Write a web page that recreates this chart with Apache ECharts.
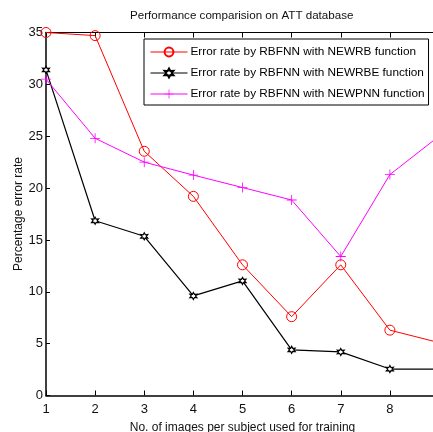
<!DOCTYPE html>
<html>
<head>
<meta charset="utf-8">
<script src="https://cdn.jsdelivr.net/npm/echarts@6/dist/echarts.min.js"></script>
<style>html,body{margin:0;padding:0;background:#fff;}#c{width:433px;height:432px;}</style>
</head>
<body>
<div id="c"></div>
<script>
const xValues = [1, 2, 3, 4, 5, 6, 7, 8, 9];
const newrb = [35, 34.7, 23.55, 19.2, 12.6, 7.6, 12.6, 6.3, 5.1];
const newrbe = [31.4, 16.85, 15.35, 9.6, 11.05, 4.4, 4.2, 2.55, 2.55];
const newpnn = [30.5, 24.8, 22.5, 21.25, 20.05, 18.85, 13.4, 21.3, 25.0];
const seriesNames = [
  'Error rate by RBFNN with NEWRB function',
  'Error rate by RBFNN with NEWRBE function',
  'Error rate by RBFNN with NEWPNN function'
];
const titleText = 'Performance comparision on ATT database';
const xName = 'No. of images per subject used for training';
const yName = 'Percentage error rate';

const FONT = 'Liberation Sans, Arial, Helvetica, sans-serif';
const pair = arr => arr.map((v, i) => [xValues[i], v]);
const starPath = 'path://M5,0L6.3,2.75L9.33,2.5L7.6,5L9.33,7.5L6.3,7.25L5,10L3.7,7.25L0.67,7.5L2.4,5L0.67,2.5L3.7,2.75Z';
const plusPath = 'path://M0,4.6H10V5.4H0Z M4.6,0H5.4V10H4.6Z';

const chart = echarts.init(document.getElementById('c'), null, {renderer: 'canvas'});
chart.setOption({
  animation: false,
  backgroundColor: '#fff',
  title: {
    text: titleText,
    left: 130, top: 10, padding: 0,
    textStyle: {fontFamily: FONT, fontSize: 11.6, fontWeight: 'normal', color: '#111'}
  },
  legend: {
    orient: 'vertical',
    left: 144, top: 39,
    padding: [7, 4, 5, 6],
    itemGap: 9,
    itemWidth: 37, itemHeight: 11,
    borderColor: '#000', borderWidth: 1,
    backgroundColor: '#fff',
    lineStyle: {width: 1},
    textStyle: {fontFamily: FONT, fontSize: 11.8, color: '#000', padding: [0, 0, 0, -2]},
    data: seriesNames
  },
  grid: {left: 46, top: 32.5, width: 393, height: 363, outerBoundsMode: 'none', containLabel: false},
  xAxis: [{
    type: 'value', min: 1, max: 9, interval: 1,
    name: xName, nameLocation: 'middle', nameGap: 26, nameMoveOverlap: false,
    nameTextStyle: {fontFamily: FONT, fontSize: 12, color: '#111'},
    axisLine: {lineStyle: {color: '#000', width: 1.5}},
    axisTick: {inside: true, length: 5, lineStyle: {color: '#000'}},
    axisLabel: {fontFamily: FONT, fontSize: 13, color: '#111', margin: 7,
      formatter: v => (v >= 9 ? '' : String(v))},
    splitLine: {show: false}
  }, {
    type: 'value', min: 1, max: 9, interval: 1, position: 'top',
    axisLine: {lineStyle: {color: '#000', width: 1}},
    axisTick: {inside: true, length: 5, lineStyle: {color: '#000'}},
    axisLabel: {show: false},
    splitLine: {show: false}
  }],
  yAxis: [{
    type: 'value', min: 0, max: 35, interval: 5,
    name: yName, nameLocation: 'middle', nameGap: 21, nameMoveOverlap: false,
    nameTextStyle: {fontFamily: FONT, fontSize: 12, color: '#111'},
    axisLine: {show: true, lineStyle: {color: '#000', width: 1.5}},
    axisTick: {show: true, inside: true, length: 4, lineStyle: {color: '#000'}},
    axisLabel: {fontFamily: FONT, fontSize: 13, color: '#111', margin: 3},
    splitLine: {show: false}
  }],
  series: [{
    name: seriesNames[0], type: 'line', data: pair(newrb),
    symbol: 'circle', symbolSize: 10, showAllSymbol: true,
    lineStyle: {color: '#ff0000', width: 1},
    itemStyle: {color: 'rgba(255,255,255,0)', borderColor: '#ff0000', borderWidth: 1}
  }, {
    name: seriesNames[1], type: 'line', data: pair(newrbe),
    symbol: starPath, symbolSize: 7,
    lineStyle: {color: '#000', width: 1.2},
    itemStyle: {color: '#fff', borderColor: '#000', borderWidth: 1.2}
  }, {
    name: seriesNames[2], type: 'line', data: pair(newpnn),
    symbol: plusPath, symbolSize: 10,
    lineStyle: {color: '#ff00ff', width: 1},
    itemStyle: {color: '#ff00ff', borderWidth: 0}
  }]
});
</script>
</body>
</html>
